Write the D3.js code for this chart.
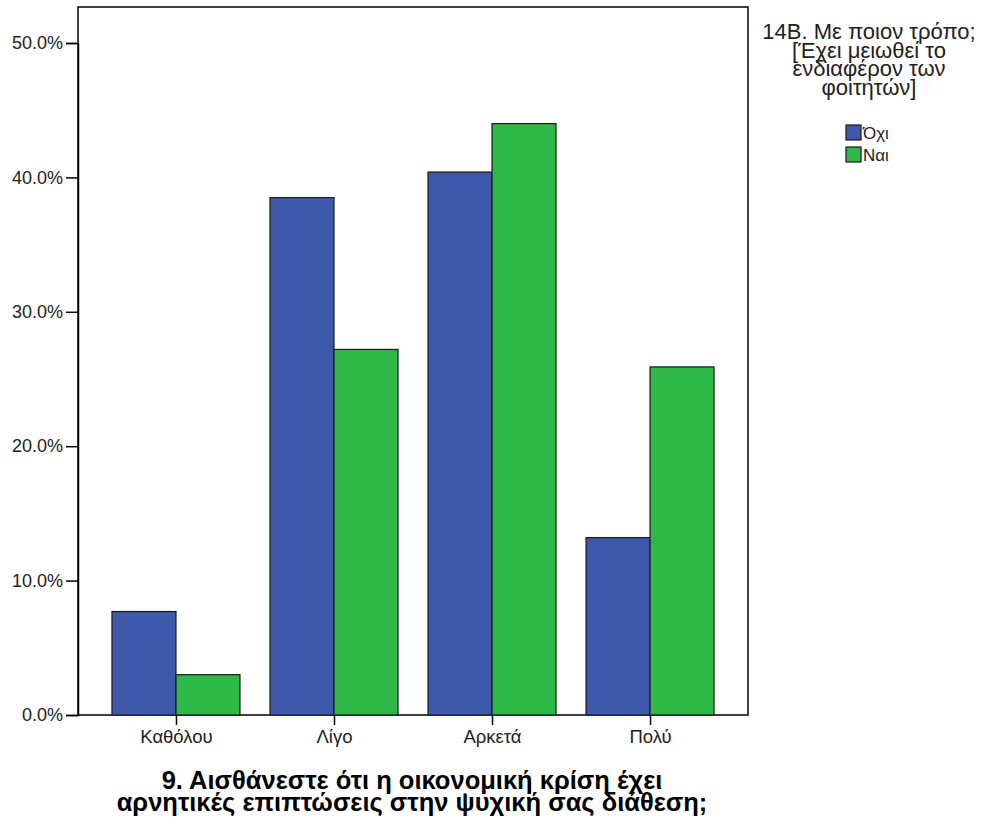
<!DOCTYPE html>
<html><head><meta charset="utf-8">
<script src="https://cdn.jsdelivr.net/npm/d3@7"></script>
<style>body{margin:0;background:#fff}svg{display:block}</style>
</head><body>
<script>
const categories = ["Καθόλου", "Λίγο", "Αρκετά", "Πολύ"];
const seriesNames = ["Όχι", "Ναι"];
const valuesOxi = [7.7, 38.5, 40.4, 13.2];
const valuesNai = [3.0, 27.2, 44.0, 25.9];
const yTicks = [0, 10, 20, 30, 40, 50];
const colors = ["#3e58ac", "#2eb848"];
const legendTitle = ["14B. Με ποιον τρόπο;", "[Έχει μειωθεί το", "ενδιαφέρον των", "φοιτητών]"];
const xTitle = ["9. Αισθάνεστε ότι η οικονομική κρίση έχει", "αρνητικές επιπτώσεις στην ψυχική σας διάθεση;"];

const W = 983, H = 820;
const L = 78, R = 748, T = 7, B = 715;
const font = "'Liberation Sans', Arial, sans-serif";
const svg = d3.select("body").append("svg").attr("width", W).attr("height", H);

const x = d3.scalePoint().domain(categories).range([L, R]).padding(0.62);
const y = d3.scaleLinear().domain([0, 50]).range([B, B - 5 * 134.4]);
const barW = 64;

svg.append("rect").attr("x", L).attr("y", T).attr("width", R - L).attr("height", B - T)
  .attr("fill", "#fff").attr("stroke", "#000").attr("stroke-width", 1.5);

const series = [valuesOxi, valuesNai];
series.forEach((vals, si) => {
  svg.append("g").selectAll("rect").data(vals).join("rect")
    .attr("x", (d, i) => x(categories[i]) + (si === 0 ? -barW : 0))
    .attr("y", d => y(d))
    .attr("width", barW)
    .attr("height", d => y(0) - y(d))
    .attr("fill", colors[si]).attr("stroke", "#1a1a1a").attr("stroke-width", 1.2);
});

// y axis
const ya = svg.append("g").attr("transform", `translate(${L},0)`)
  .call(d3.axisLeft(y).tickValues(yTicks).tickSize(12).tickPadding(3).tickFormat(d => d.toFixed(1) + "%"));
ya.select(".domain").attr("stroke", "#000").attr("stroke-width", 1.5);
ya.selectAll(".tick line").attr("stroke", "#000").attr("stroke-width", 1.5);
ya.selectAll("text").attr("font-family", font).attr("font-size", 18).attr("fill", "#222");

// x axis
const xa = svg.append("g").attr("transform", `translate(0,${B})`)
  .call(d3.axisBottom(x).tickSize(10).tickPadding(5));
xa.select(".domain").remove();
xa.selectAll(".tick line").attr("stroke", "#000").attr("stroke-width", 1.5);
xa.selectAll("text").attr("font-family", font).attr("font-size", 18.5).attr("fill", "#222");

// x title
svg.append("text").attr("text-anchor", "middle")
  .attr("font-family", font).attr("font-size", 25.5).attr("font-weight", "bold").attr("fill", "#000")
  .selectAll("tspan").data(xTitle).join("tspan")
  .attr("x", 412).attr("y", (d, i) => 789 + i * 21.5).text(d => d);

// legend
svg.append("text").attr("text-anchor", "middle")
  .attr("font-family", font).attr("font-size", 22).attr("fill", "#222")
  .selectAll("tspan").data(legendTitle).join("tspan")
  .attr("x", 869).attr("y", (d, i) => 39 + i * 18.7).text(d => d);

const lg = svg.append("g").selectAll("g").data(seriesNames).join("g")
  .attr("transform", (d, i) => `translate(846,${125 + i * 22})`);
lg.append("rect").attr("width", 15).attr("height", 15)
  .attr("fill", (d, i) => colors[i]).attr("stroke", "#1a1a1a").attr("stroke-width", 1.2);
lg.append("text").attr("x", 17).attr("y", 14).attr("font-family", font).attr("font-size", 17)
  .attr("fill", "#222").text(d => d);
</script>
</body></html>
